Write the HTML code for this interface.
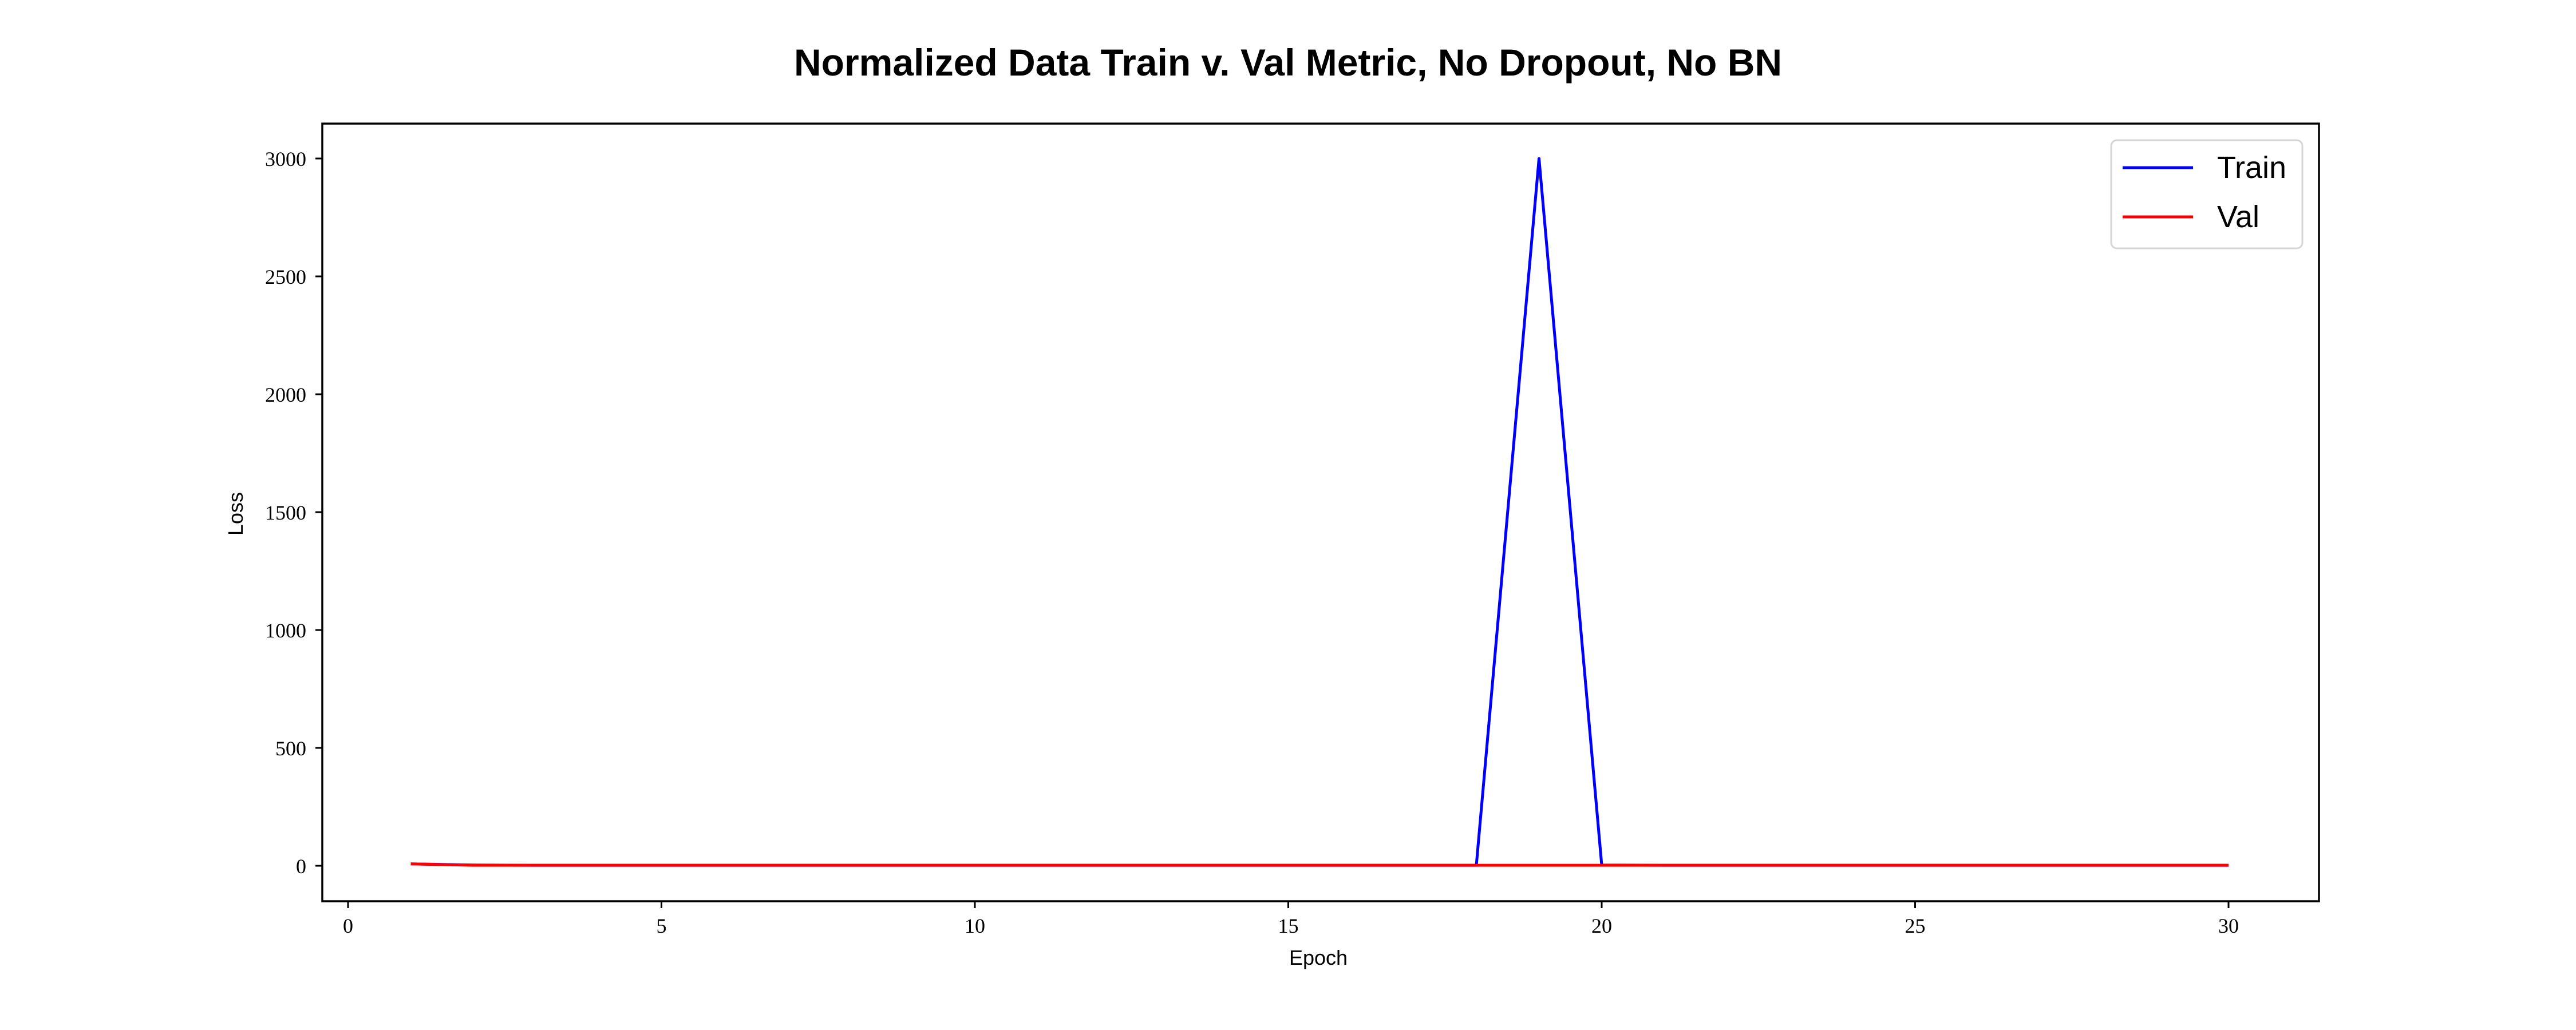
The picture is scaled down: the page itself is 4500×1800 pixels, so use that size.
<!DOCTYPE html>
<html><head><meta charset="utf-8"><style>
html,body{margin:0;padding:0;background:#fff;}
svg{display:block;}
</style></head><body>
<svg id="chart" width="4500" height="1800" viewBox="0 0 4500 1800" xmlns="http://www.w3.org/2000/svg">
<text x="2250" y="132" text-anchor="middle" font-family="Liberation Sans, sans-serif" font-weight="bold" font-size="66">Normalized Data Train v. Val Metric, No Dropout, No BN</text>
<g id="plot"></g>
<rect x="563" y="216" width="3488" height="1359" fill="none" stroke="#000" stroke-width="3.5"/>
<text x="2303" y="1686" text-anchor="middle" font-family="Liberation Sans, sans-serif" font-size="36">Epoch</text>
<text transform="translate(424,898) rotate(-90)" text-anchor="middle" font-family="Liberation Sans, sans-serif" font-size="36">Loss</text>
<g>
<rect x="3688" y="245" width="334" height="189" rx="10" fill="#fff" stroke="#d6d6d6" stroke-width="3"/>
<line x1="3708" y1="293" x2="3831" y2="293" stroke="#0000ff" stroke-width="5"/>
<text x="3873" y="311" font-family="Liberation Sans, sans-serif" font-size="54">Train</text>
<line x1="3708" y1="379" x2="3831" y2="379" stroke="#ff0000" stroke-width="5"/>
<text x="3873" y="397" font-family="Liberation Sans, sans-serif" font-size="54">Val</text>
</g>
</svg>
<script>
const epochs = [1,2,3,4,5,6,7,8,9,10,11,12,13,14,15,16,17,18,19,20,21,22,23,24,25,26,27,28,29,30];
const trainLoss = [8,3,2,2,2,2,2,2,2,2,2,2,2,2,2,2,2,2,3000,3,2,2,2,2,2,2,2,2,2,2];
const valLoss = [8,2,2,2,2,2,2,2,2,2,2,2,2,2,2,2,2,2,2,2,2,2,2,2,2,2,2,2,2,2];
const xTicks = [0,5,10,15,20,25,30];
const yTicks = [0,500,1000,1500,2000,2500,3000];

const NS = "http://www.w3.org/2000/svg";
const X0 = 608, XU = 109.5;
const Y0 = 1513, YU = (1513 - 277) / 3000;
function xs(v){ return X0 + v * XU; }
function ys(v){ return Y0 - v * YU; }
const plot = document.getElementById('plot');
function mk(tag, attrs){ const e = document.createElementNS(NS, tag); for (const k in attrs) e.setAttribute(k, attrs[k]); plot.appendChild(e); return e; }

xTicks.forEach(t => {
  const l = mk('line', {x1: xs(t), x2: xs(t), y1: 1575, y2: 1587, stroke: '#000', 'stroke-width': 3});
  
  
  const tx = mk('text', {x: xs(t), y: 1630, 'text-anchor': 'middle', 'font-family': 'Liberation Serif, serif', 'font-size': 36});
  tx.textContent = t;
  
  
});
yTicks.forEach(t => {
  const l = mk('line', {x1: 551, x2: 563, y1: ys(t), y2: ys(t), stroke: '#000', 'stroke-width': 3});
  
  
  const tx = mk('text', {x: 535, y: ys(t) + 13, 'text-anchor': 'end', 'font-family': 'Liberation Serif, serif', 'font-size': 36});
  tx.textContent = t;
  
  
});
function series(vals, color, name){
  const p = mk('polyline', {points: vals.map((v,i) => xs(epochs[i]) + ',' + ys(v)).join(' '), fill: 'none', stroke: color, 'stroke-width': 5, 'stroke-linejoin': 'round'});
  
  
}
series(trainLoss, '#0000ff', 'train-line');
series(valLoss, '#ff0000', 'val-line');
</script>
</body></html>
